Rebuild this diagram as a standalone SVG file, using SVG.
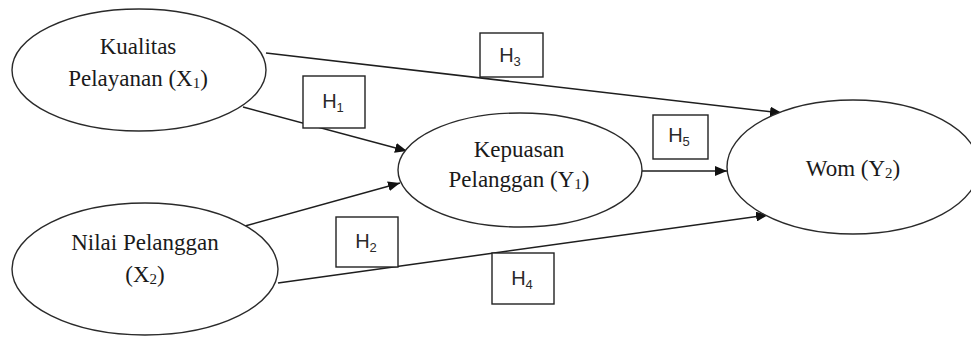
<svg xmlns="http://www.w3.org/2000/svg" width="971" height="337" viewBox="0 0 971 337">
  <style>
    .node { fill: #ffffff; stroke: #2a2a2a; stroke-width: 1.4; }
    .lbl { font-family: "Liberation Serif", "Times New Roman", serif; font-size: 23px; fill: #1a1a1a; text-anchor: middle; }
    .sub { font-size: 15px; }
    .hbox { fill: #ffffff; stroke: #222; stroke-width: 1.4; }
    .htxt { font-family: "Liberation Sans", Arial, sans-serif; font-size: 20px; fill: #2a2a2a; text-anchor: middle; }
    .hsub { font-size: 13px; }
    .edge { fill: none; stroke: #1e1e1e; stroke-width: 1.5; }
  </style>
  <defs>
    <marker id="arrow" viewBox="0 0 12 10" refX="12" refY="5" markerWidth="12" markerHeight="10" markerUnits="userSpaceOnUse" orient="auto">
      <path d="M0,0 L12,5 L0,10 z" fill="#111"/>
    </marker>
  </defs>
  <rect width="971" height="337" fill="#ffffff"/>

  <!-- paths between the constructs -->
  <g id="connectors">
    <line class="edge" x1="266" y1="53" x2="782" y2="113" marker-end="url(#arrow)"/>
    <line class="edge" x1="243" y1="107" x2="407" y2="151" marker-end="url(#arrow)"/>
    <line class="edge" x1="245" y1="226" x2="400" y2="183" marker-end="url(#arrow)"/>
    <line class="edge" x1="278" y1="283" x2="768" y2="215" marker-end="url(#arrow)"/>
    <line class="edge" x1="642" y1="171" x2="727" y2="171" marker-end="url(#arrow)"/>
  </g>

  <g id="node-x1">
    <ellipse class="node" cx="139" cy="70" rx="127" ry="61"/>
    <text class="lbl" x="138" y="54">Kualitas</text>
    <text class="lbl" x="138" y="86">Pelayanan (X<tspan class="sub" dy="2">1</tspan><tspan dy="-2">)</tspan></text>
  </g>

  <g id="node-x2">
    <ellipse class="node" cx="145" cy="269" rx="133" ry="66"/>
    <text class="lbl" x="145" y="250">Nilai Pelanggan</text>
    <text class="lbl" x="145" y="282">(X<tspan class="sub" dy="2">2</tspan><tspan dy="-2">)</tspan></text>
  </g>

  <g id="node-y1">
    <ellipse class="node" cx="520" cy="170" rx="122" ry="57"/>
    <text class="lbl" x="519" y="157">Kepuasan</text>
    <text class="lbl" x="519" y="187">Pelanggan (Y<tspan class="sub" dy="2">1</tspan><tspan dy="-2">)</tspan></text>
  </g>

  <g id="node-y2">
    <ellipse class="node" cx="853" cy="167" rx="126" ry="67"/>
    <text class="lbl" x="853" y="176">Wom (Y<tspan class="sub" dy="2">2</tspan><tspan dy="-2">)</tspan></text>
  </g>

  <!-- hypothesis labels -->
  <g id="h1">
    <rect class="hbox" x="303" y="76" width="62" height="52"/>
    <text class="htxt" x="333" y="108">H<tspan class="hsub" dy="4">1</tspan></text>
  </g>
  <g id="h2">
    <rect class="hbox" x="336" y="217" width="62" height="50"/>
    <text class="htxt" x="366" y="248">H<tspan class="hsub" dy="4">2</tspan></text>
  </g>
  <g id="h3">
    <rect class="hbox" x="480" y="33" width="63" height="44"/>
    <text class="htxt" x="510" y="62">H<tspan class="hsub" dy="4">3</tspan></text>
  </g>
  <g id="h4">
    <rect class="hbox" x="492" y="253" width="62" height="51"/>
    <text class="htxt" x="522" y="285">H<tspan class="hsub" dy="4">4</tspan></text>
  </g>
  <g id="h5">
    <rect class="hbox" x="653" y="115" width="55" height="44"/>
    <text class="htxt" x="679" y="142">H<tspan class="hsub" dy="4">5</tspan></text>
  </g>
</svg>
